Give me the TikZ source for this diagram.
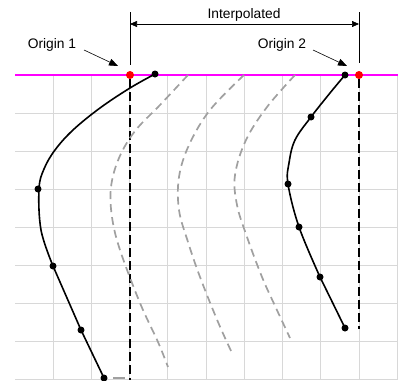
\documentclass[tikz,border=0pt]{standalone}
\usepackage{fontspec}
\setmainfont{Liberation Sans}
\usetikzlibrary{arrows.meta}
\definecolor{gridgray}{RGB}{216,216,216}
\definecolor{interpgray}{RGB}{160,160,160}
\definecolor{magentaline}{RGB}{255,0,255}
\begin{document}
\begin{tikzpicture}[x=1pt,y=-1pt,
  gridline/.style={draw=gridgray, line width=0.9pt},
  topline/.style={draw=magentaline, line width=1.8pt},
  originline/.style={draw=black, line width=1.7pt, dash pattern=on 9pt off 4pt},
  profile/.style={draw=black, line width=1.6pt, line cap=round},
  interp/.style={draw=interpgray, line width=1.7pt, dash pattern=on 8pt off 5pt},
  dot/.style={circle, fill=black, inner sep=0pt, minimum size=7pt},
  reddot/.style={circle, fill=red, inner sep=0pt, minimum size=8pt},
  lbl/.style={font=\fontsize{13.8}{16}\selectfont, inner sep=0pt},
  thinline/.style={draw=black, line width=0.6pt},
  callout/.style={thinline, -{Triangle[length=9pt,width=7pt]}},
  dimarrow/.style={thinline, {Triangle[length=7pt,width=6pt]}-{Triangle[length=7pt,width=6pt]}}
]
\useasboundingbox (0,0) rectangle (398,380);
% grid
\foreach \k in {0,...,9} \draw[gridline] ({53+38.25*\k},75) -- ({53+38.25*\k},380);
\foreach \k in {1,...,8} \draw[gridline] (15,{75+38*\k}) -- (398,{75+38*\k});
% baseline
\coordinate (bl) at (15,75);
\coordinate (br) at (398,75);
\draw[topline] (bl) -- (br);
% origin lines
\node[reddot] (o1) at (130,75) {};
\node[reddot] (o2) at (359,75) {};
\coordinate (o1end) at (130,380);
\coordinate (o2end) at (359,329);
\draw[originline] (o1) -- (o1end);
\draw[originline] (o2) -- (o2end);
% interpolated curves
\draw[interp] plot[smooth, tension=0.6] coordinates {(188,75) (160,105) (135,131) (119,158) (111,187) (112,217) (120,250) (140,303) (158,342) (168,367)};
\draw[interp] plot[smooth, tension=0.6] coordinates {(244,75) (210,110) (189,145) (179,177) (179,210) (188,242) (200,277) (218,322) (232,353)};
\draw[interp] plot[smooth, tension=0.6] coordinates {(295,75) (267,107) (246,140) (235,175) (237,205) (247,237) (262,277) (276,308) (290,338)};
\draw[interpgray, line width=1.7pt] (113,378) -- (125,378);
% profile 1
\node[dot] (a1) at (155,74) {};
\node[dot] (a2) at (38,189) {};
\node[dot] (a3) at (53,266) {};
\node[dot] (a4) at (81,330) {};
\node[dot] (a5) at (104,378) {};
\draw[profile] plot[smooth, tension=0.6] coordinates {(155,74) (130,88) (100,108) (73,130) (55,150) (44,169) (39,189) (41,230) (53,266)};
\draw[profile] (a3.center) -- (a4.center) -- (a5.center);
% profile 2
\node[dot] (b1) at (345,75) {};
\node[dot] (b2) at (311,117) {};
\node[dot] (b3) at (288,184) {};
\node[dot] (b4) at (299,227) {};
\node[dot] (b5) at (320,277) {};
\node[dot] (b6) at (345,328) {};
\draw[profile] plot[smooth, tension=0.6] coordinates {(345,75) (330,93) (311,117) (295,140) (289,163) (288,184) (299,227) (320,277)};
\draw[profile] (b5.center) -- (b6.center);
% dimension
\coordinate (e1top) at (130,12);
\coordinate (e1bot) at (130,65);
\coordinate (e2top) at (359,12);
\coordinate (e2bot) at (359,63);
\draw[thinline] (e1top) -- (e1bot);
\draw[thinline] (e2top) -- (e2bot);
\coordinate (d1) at (130,24);
\coordinate (d2) at (359,24);
\draw[dimarrow] (d1) -- (d2);
\node[lbl] (interp) at (244,15) {Interpolated};
% callouts
\node[lbl] (t1) at (52,45) {Origin 1};
\node[lbl] (t2) at (282,45) {Origin 2};
\coordinate (c0) at (84,50);
\coordinate (c1) at (118,66);
\coordinate (c3) at (313,50);
\coordinate (c2) at (347,66);
\draw[callout] (c0) -- (c1);
\draw[callout] (c3) -- (c2);
\end{tikzpicture}
\end{document}
